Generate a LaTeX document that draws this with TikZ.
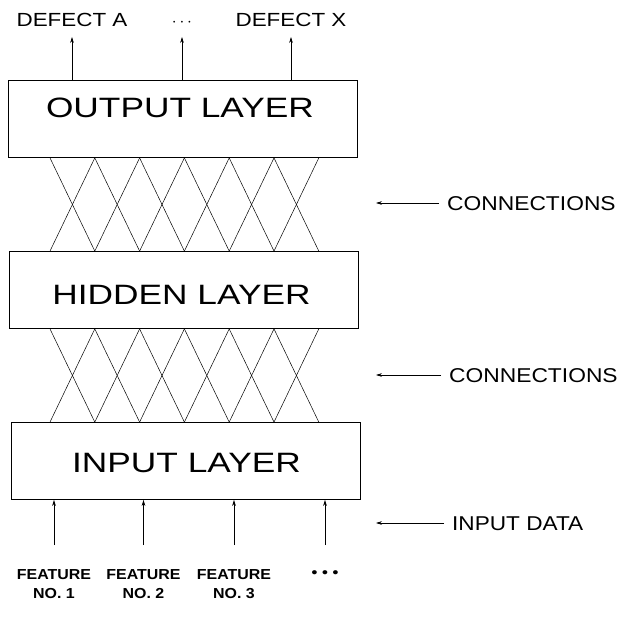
\documentclass[tikz,border=0pt]{standalone}
\usepackage{fontspec}
\setmainfont{Liberation Sans}
\usepackage{graphicx}
\usetikzlibrary{arrows.meta}
\newcommand{\widetxt}[2]{\scalebox{#1}[1]{#2}}
\tikzset{
  layer/.style={draw, line width=0.8pt, minimum width=349pt, minimum height=77pt, inner sep=0pt},
  layertxt/.style={inner sep=0pt, text height=20pt, text depth=0pt, font=\fontsize{28}{32}\selectfont},
  toplab/.style={inner sep=0pt, text height=13.6pt, text depth=0pt, font=\fontsize{19}{22}\selectfont},
  sidelab/.style={anchor=west, inner sep=0pt, text height=14.3pt, text depth=0pt, font=\fontsize{20}{24}\selectfont},
  featlab/.style={anchor=north, inner sep=0pt, align=center, font=\bfseries\fontsize{14.5}{19.5}\selectfont},
  conn/.style={line width=0.5pt},
  arr/.style={->, line width=0.6pt},
}
\begin{document}
\begin{tikzpicture}[x=1pt,y=-1pt,>={Stealth[length=6pt,width=3.6pt]}]
    \useasboundingbox (0,0) rectangle (621,617);
    % layers
    \node[layer] (out) at (182.5,119) {};
    \node[layer] (hid) at (184,290) {};
    \node[layer] (in) at (186,461) {};
    \node[layertxt] (outtxt) at (180,108) {\widetxt{1.26}{OUTPUT LAYER}};
    \node[layertxt] (hidtxt) at (181.5,295) {\widetxt{1.26}{HIDDEN LAYER}};
    \node[layertxt] (intxt) at (186.5,462) {\widetxt{1.26}{INPUT LAYER}};
    % connections
    \foreach \x in {50,94.8,...,275}{
        \draw[conn] (\x,0 |- out.south) -- (\x+44.8,0 |- hid.north);
        \draw[conn] (\x+44.8,0 |- out.south) -- (\x,0 |- hid.north);
        \draw[conn] (\x,0 |- hid.south) -- (\x+44.8,0 |- in.north);
        \draw[conn] (\x+44.8,0 |- hid.south) -- (\x,0 |- in.north);
    }
    % outputs
    \node[toplab] (defA) at (72,20) {\widetxt{1.18}{DEFECT A}};
    \node[toplab] (tdots) at (182,20) {$\cdots$};
    \node[toplab] (defX) at (291,20) {\widetxt{1.18}{DEFECT X}};
    \coordinate (tp) at (0,37);
    \foreach \n in {defA,tdots,defX}
        \draw[arr] (\n |- out.north) -- (\n |- tp);
    % inputs
    \node[featlab] (f1) at (54,569) {\widetxt{1.1}{FEATURE}\\\widetxt{1.1}{NO. 1}};
    \node[featlab] (f2) at (143.5,569) {\widetxt{1.1}{FEATURE}\\\widetxt{1.1}{NO. 2}};
    \node[featlab] (f3) at (234,569) {\widetxt{1.1}{FEATURE}\\\widetxt{1.1}{NO. 3}};
    \node[inner sep=0pt, font=\bfseries\fontsize{14.5}{17}\selectfont] (fdots) at (325,574) {\widetxt{1.15}{• • •}};
    \coordinate (tl) at (0,545);
    \foreach \n in {f1,f2,f3,fdots}
        \draw[arr] (\n |- tl) -- (\n |- in.south);
    % side labels
    \node[sidelab] (c1) at (447,203) {\widetxt{1.14}{CONNECTIONS}};
    \node[sidelab] (c2) at (449,375) {\widetxt{1.14}{CONNECTIONS}};
    \node[sidelab] (dat) at (452,523) {\widetxt{1.13}{INPUT DATA}};
    \coordinate (ah) at (376,0);
    \foreach \n in {c1,c2,dat}
        \draw[arr] ([xshift=-8pt]\n.west) -- (ah |- \n.west);
\end{tikzpicture}
\end{document}
